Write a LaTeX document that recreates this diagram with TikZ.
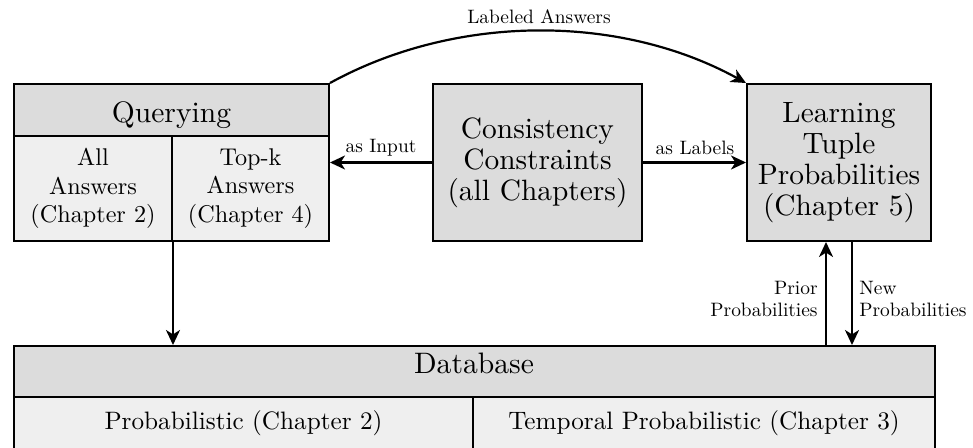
\documentclass[tikz,border=0pt]{standalone}
\usepackage{fontspec}
\setmainfont{lmroman10-regular}[Extension=.otf]
\usetikzlibrary{arrows.meta}
\definecolor{headgray}{gray}{0.863}
\definecolor{cellgray}{gray}{0.937}
\tikzset{
  box/.style={draw, line width=1pt, inner sep=0pt, align=center, font=\fontsize{14.7}{15.5}\selectfont},
  headbox/.style={box, fill=headgray},
  cellbox/.style={draw, line width=1pt, inner sep=0pt, align=center, fill=cellgray, font=\fontsize{12.1}{14.25}\selectfont},
  dbhead/.style={draw, line width=1pt, inner sep=0pt, fill=headgray},
  dbcell/.style={draw, line width=1pt, inner sep=0pt, align=center, fill=cellgray, font=\fontsize{12.6}{14}\selectfont},
  bigtext/.style={inner sep=0pt, font=\fontsize{14.8}{15.5}\selectfont},
  lab/.style={inner sep=0pt, font=\fontsize{9.7}{11}\selectfont},
  arr/.style={line width=1.1pt, -{Stealth[length=7.5pt,width=7pt,inset=2.2pt]}},
}
\begin{document}
\begin{tikzpicture}[x=0.5pt,y=-0.5pt]
\useasboundingbox (0,0) rectangle (973,448);
% Database (cut by the page bottom)
\node[dbhead, minimum width=460.5pt, minimum height=25.5pt] (dbh) at (474.5,371.5) {};
\node[bigtext] (dbtext) at (474,363) {Database};
\node[dbcell, minimum width=229.5pt, minimum height=26pt] (dbp) at (243.5,423) {Probabilistic (Chapter 2)};
\node[dbcell, minimum width=231pt, minimum height=26pt] (dbt) at (704,423) {Temporal Probabilistic (Chapter 3)};
% Querying
\node[headbox, minimum width=157.5pt, minimum height=26pt] (qh) at (171.5,110) {};
\node[bigtext] (qtext) at (171.5,115.5) {Querying};
\node[cellbox, minimum width=79pt, minimum height=52.5pt] (qa) at (93,188.5) {All\\Answers\\(Chapter 2)};
\node[cellbox, minimum width=78.5pt, minimum height=52.5pt] (qt) at (250.5,188.5) {Top-k\\Answers\\(Chapter 4)};
% Consistency and Learning
\node[headbox, minimum width=104.5pt, minimum height=78.5pt] (cons) at (537.5,162.5) {Consistency\\Constraints\\(all Chapters)};
\node[headbox, minimum width=92pt, minimum height=78.5pt] (learn) at (839,162.5) {Learning\\Tuple\\Probabilities\\(Chapter 5)};
% connectors
\draw[arr] (cons.west) -- (cons.west -| qt.east);
\draw[arr] (cons.east) -- (learn.west);
\draw[arr] (qh.north east) .. controls +(126,-69.3) and +(-126,-69.3) .. (learn.north west);
\draw[arr] (qa.south east) -- (qa.south east |- dbh.north);
\draw[arr] ([xshift=-6.5pt]learn.south |- dbh.north) -- ([xshift=-6.5pt]learn.south);
\draw[arr] ([xshift=6.5pt]learn.south) -- ([xshift=6.5pt]learn.south |- dbh.north);
% labels
\node[lab] (lans) at (539,17) {Labeled Answers};
\node[lab] (linp) at (381,148) {as Input};
\node[lab] (llab) at (695,148) {as Labels};
\node[lab, align=right, anchor=east] (lprior) at (818,299) {Prior\\Probabilities};
\node[lab, align=left, anchor=west] (lnew) at (859,299) {New\\Probabilities};
\end{tikzpicture}
\end{document}
